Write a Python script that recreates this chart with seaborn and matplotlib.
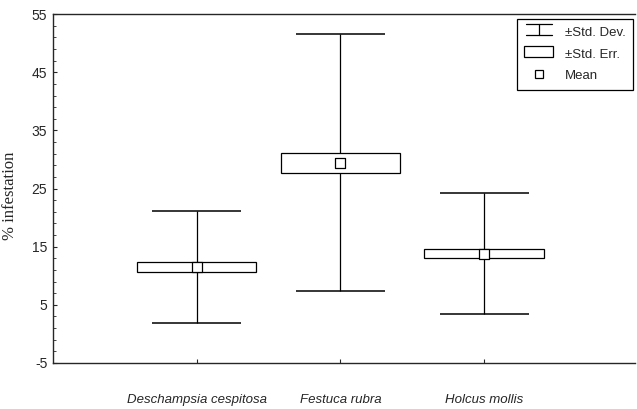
import numpy as np
import pandas as pd
import seaborn as sns
import matplotlib.pyplot as plt
from matplotlib.patches import Rectangle
from matplotlib.lines import Line2D
from matplotlib.legend_handler import HandlerBase

# values
species = ['Deschampsia cespitosa', 'Festuca rubra', 'Holcus mollis']
means = [11.5, 29.4, 13.8]
std_dev = [9.7, 22.1, 10.4]
std_err = [0.83, 1.65, 0.78]

df = pd.DataFrame({'species': species, 'mean': means, 'sd': std_dev, 'se': std_err})

sns.set_style('ticks')
plt.rcParams['font.family'] = ['Liberation Sans', 'DejaVu Sans']
plt.rcParams['axes.unicode_minus'] = False

fig = plt.figure(figsize=(6.37, 4.09), dpi=100)
ax = fig.add_axes([0.083, 0.1125, 0.914, 0.853])

box_w = 0.83
cap_w = 0.62
for i, row in df.iterrows():
    # std dev whisker with caps
    ax.vlines(i, row['mean'] - row['sd'], row['mean'] + row['sd'], color='black', lw=0.9, zorder=1)
    ax.hlines([row['mean'] - row['sd'], row['mean'] + row['sd']], i - cap_w / 2, i + cap_w / 2,
              color='black', lw=1.1, zorder=1)
    # std err box
    ax.add_patch(Rectangle((i - box_w / 2, row['mean'] - row['se']), box_w, 2 * row['se'],
                           facecolor='white', edgecolor='black', lw=0.9, zorder=2))

# mean markers
sns.scatterplot(data=df, x='species', y='mean', marker='s', s=42, color='white',
                edgecolor='black', linewidth=0.9, ax=ax, zorder=3, legend=False)

ax.set_xlim(-1, 3.05)
ax.set_ylim(-5, 55)
ax.set_yticks(np.arange(-5, 56, 10))
ax.set_yticks(np.arange(-5, 56, 2), minor=True)
ax.tick_params(axis='y', direction='in', length=3, width=0.8, labelsize=10, pad=4)
ax.tick_params(axis='y', which='minor', direction='in', length=2, width=0.6)
ax.set_xticks(range(len(species)))
ax.set_xticklabels(species, fontstyle='italic', fontsize=9.5)
ax.tick_params(axis='x', direction='in', length=3, width=0.8, pad=22)
ax.set_xlabel('')
ax.set_ylabel('% infestation', family='Liberation Serif', fontsize=12)
ax.yaxis.set_label_coords(-0.06, 0.48)

for s in ['left', 'top', 'bottom']:
    ax.spines[s].set_linewidth(1.0)
ax.spines['right'].set_visible(False)


# legend symbols
class SDHandler(HandlerBase):
    def create_artists(self, legend, orig, x0, y0, w, h, fs, trans):
        cx = x0 + w / 2
        return [Line2D([x0 + w * 0.05, x0 + w * 0.95], [y0 + h, y0 + h], color='black', lw=0.9, transform=trans),
                Line2D([x0 + w * 0.05, x0 + w * 0.95], [y0, y0], color='black', lw=0.9, transform=trans),
                Line2D([cx, cx], [y0, y0 + h], color='black', lw=0.9, transform=trans)]


class SEHandler(HandlerBase):
    def create_artists(self, legend, orig, x0, y0, w, h, fs, trans):
        return [Rectangle((x0, y0), w, h, facecolor='white', edgecolor='black', lw=0.9, transform=trans)]


sd_h = Line2D([], [])
se_h = Rectangle((0, 0), 1, 1)
mean_h = Line2D([], [], marker='s', ls='', markersize=6, markerfacecolor='white',
                markeredgecolor='black', markeredgewidth=0.9)
leg = ax.legend([sd_h, se_h, mean_h], ['\u00b1Std. Dev.', '\u00b1Std. Err.', 'Mean'],
                handler_map={sd_h: SDHandler(), se_h: SEHandler()},
                loc='upper right', bbox_to_anchor=(0.997, 0.986), borderaxespad=0,
                fontsize=9.5, frameon=True, fancybox=False, edgecolor='black', framealpha=1,
                handlelength=2.2, handleheight=0.9, labelspacing=0.65, borderpad=0.55,
                handletextpad=0.9)
leg.get_frame().set_linewidth(0.9)

fig.savefig('out.png', dpi=100)
